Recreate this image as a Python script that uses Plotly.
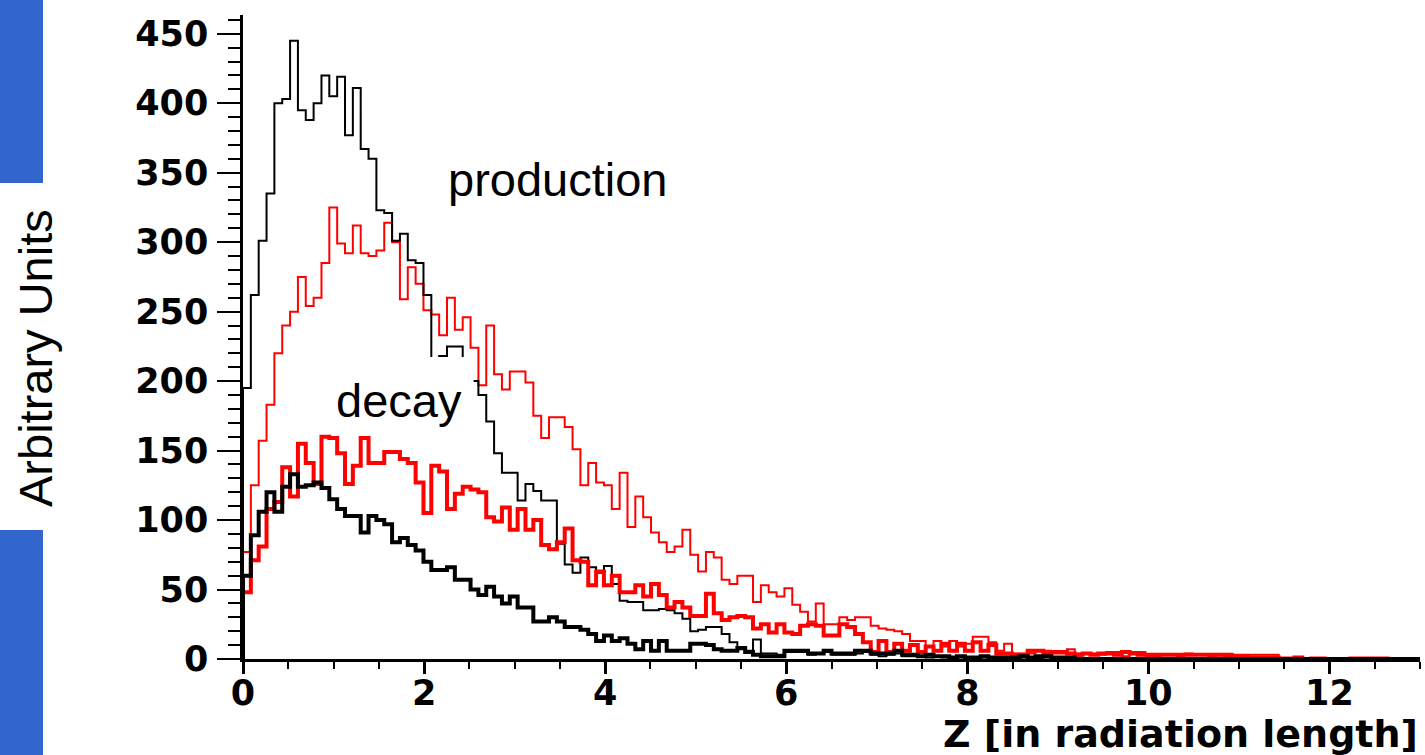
import numpy as np
import plotly.graph_objects as go

# ---------------- data ----------------
NBINS = 150
XMIN, XMAX = 0.0, 13.0

thin_black = [195, 262, 301, 335, 400, 403, 445, 395, 388, 400,
              420, 405, 419, 377, 411, 367, 360, 323, 321, 301,
              306, 287, 285, 262, 205, 218, 225, 225, 212, 200,
              190, 171, 148, 134, 134, 114, 126, 121, 114, 114,
              83, 68, 62, 73, 66, 62, 67, 54, 42, 41,
              41, 35, 35, 36, 35, 33, 29, 20, 21, 23,
              23, 18, 12, 7, 6, 14, 4, 4, 3, 5,
              5, 5, 3, 4, 5, 3, 3, 3, 4, 5,
              3, 2, 3, 4, 2, 2, 2, 1, 2, 1,
              1, 1, 0, 1, 1, 0, 1, 0, 0, 1,
              0, 0, 1, 0, 0, 0, 1, 0, 0, 0,
              0, 0, 0, 0, 0, 0, 0, 0, 0, 0,
              0, 0, 0, 0, 0, 0, 0, 0, 0, 0,
              0, 0, 0, 0, 0, 0, 0, 0, 0, 0,
              0, 0, 0, 0, 0, 0, 0, 0, 0, 0]

thin_red = [77, 125, 157, 183, 220, 240, 250, 275, 254, 260,
            285, 325, 299, 292, 312, 292, 290, 294, 314, 300,
            259, 282, 270, 251, 248, 233, 260, 237, 246, 224,
            197, 240, 205, 194, 207, 207, 199, 175, 159, 174,
            174, 167, 151, 125, 141, 127, 125, 108, 134, 95,
            117, 102, 91, 84, 77, 81, 93, 75, 63, 77,
            73, 57, 54, 60, 60, 41, 53, 48, 45, 51,
            39, 34, 27, 40, 25, 25, 30, 28, 30, 30,
            24, 22, 21, 20, 18, 13, 13, 9, 13, 9,
            13, 9, 11, 16, 16, 12, 6, 11, 4, 4,
            4, 6, 6, 4, 4, 7, 4, 4, 4, 3,
            5, 5, 2, 5, 5, 2, 2, 3, 3, 2,
            4, 3, 3, 2, 1, 2, 3, 3, 3, 3,
            3, 3, 1, 1, 0, 0, 1, 1, 0, 0,
            0, 1, 1, 1, 1, 1, 0, 0, 0, 0]

thick_red = [48, 71, 81, 108, 113, 138, 117, 155, 141, 126,
             160, 159, 148, 126, 139, 159, 141, 141, 149, 149,
             144, 141, 127, 105, 139, 135, 108, 119, 124, 122,
             120, 102, 99, 109, 93, 108, 93, 100, 82, 79,
             84, 94, 71, 70, 53, 63, 53, 60, 48, 48,
             53, 45, 54, 46, 37, 41, 37, 31, 31, 47,
             33, 28, 30, 31, 30, 22, 25, 19, 25, 19,
             18, 24, 25, 24, 17, 17, 25, 23, 18, 12,
             5, 13, 5, 11, 6, 10, 5, 9, 6, 11,
             6, 11, 6, 12, 6, 10, 4, 4, 3, 3,
             6, 6, 4, 5, 5, 4, 3, 4, 3, 4,
             4, 3, 5, 4, 3, 3, 3, 3, 3, 3,
             3, 3, 3, 3, 3, 3, 2, 2, 1, 1,
             1, 1, 0, 0, 1, 0, 0, 0, 0, 0,
             0, 0, 0, 0, 0, 0, 0, 0, 0, 0]

thick_black = [60, 89, 106, 120, 106, 124, 133, 124, 125, 127,
               123, 115, 108, 103, 103, 91, 103, 100, 97, 84,
               87, 82, 78, 70, 64, 64, 66, 57, 57, 50,
               46, 52, 45, 40, 45, 37, 37, 27, 27, 30,
               27, 23, 23, 21, 18, 13, 17, 13, 15, 11,
               7, 13, 6, 13, 6, 6, 6, 11, 11, 10,
               7, 6, 6, 8, 5, 3, 2, 2, 2, 6,
               6, 6, 4, 4, 6, 4, 4, 4, 6, 6,
               4, 4, 4, 6, 3, 3, 2, 3, 2, 2,
               1, 2, 1, 1, 2, 1, 1, 1, 1, 2,
               1, 2, 2, 1, 1, 1, 0, 0, 0, 0,
               0, 0, 0, 0, 0, 0, 0, 0, 0, 0,
               0, 0, 0, 0, 0, 0, 0, 0, 0, 0,
               0, 0, 0, 0, 0, 0, 0, 0, 0, 0,
               0, 0, 0, 0, 0, 0, 0, 0, 0, 0]

x_ticks = [0, 2, 4, 6, 8, 10, 12]
y_ticks = [0, 50, 100, 150, 200, 250, 300, 350, 400, 450]

edges = np.linspace(XMIN, XMAX, NBINS + 1)


def step_xy(vals):
    v = np.asarray(vals, dtype=float)
    xs = np.concatenate([[edges[0]], edges[:-1], [edges[-1]]])
    ys = np.concatenate([[0.0], v, [v[-1]]])
    return xs, ys


fig = go.Figure()
for vals, color, width in [(thin_red, "#ff0000", 2),
                           (thin_black, "#000000", 2),
                           (thick_red, "#ff0000", 4),
                           (thick_black, "#000000", 4)]:
    xs, ys = step_xy(vals)
    fig.add_trace(go.Scatter(x=xs, y=ys, mode="lines",
                             line=dict(color=color, width=width, shape="hv"),
                             hoverinfo="skip", showlegend=False, cliponaxis=True))

W, H = 1425, 755
ML, MR, MT, MB = 243, 5, 15, 96
YMAX = 463.5
pw = W - ML - MR
ph = H - MT - MB


def px2paper_x(px):
    return (px - ML) / pw


def px2paper_y(py):
    return (H - MB - py) / ph


tickfont = dict(family="DejaVu Sans", size=35, color="black", weight="bold")

fig.update_layout(
    width=W, height=H,
    margin=dict(l=ML, r=MR, t=MT, b=MB, pad=0),
    paper_bgcolor="white", plot_bgcolor="white",
    showlegend=False,
    xaxis=dict(range=[XMIN, XMAX], showgrid=False, zeroline=False,
               showline=True, linecolor="black", linewidth=3,
               ticks="outside", ticklen=12, tickwidth=2.5, tickcolor="black",
               tickvals=x_ticks, ticktext=[str(t) for t in x_ticks],
               tickfont=tickfont, ticklabelstandoff=-11,
               minor=dict(dtick=0.5, ticks="outside", ticklen=7,
                          tickwidth=2, tickcolor="black", showgrid=False)),
    yaxis=dict(range=[0, YMAX], showgrid=False, zeroline=False,
               showline=True, linecolor="black", linewidth=2.5,
               ticks="outside", ticklen=23, tickwidth=2, tickcolor="black",
               tickvals=y_ticks, ticktext=[str(t) for t in y_ticks],
               tickfont=tickfont, ticklabelstandoff=2,
               minor=dict(dtick=10, ticks="outside", ticklen=12,
                          tickwidth=2, tickcolor="black", showgrid=False)),
)

# blue strips at left edge of the slide
blue = "#3366cc"
fig.add_shape(type="rect", xref="paper", yref="paper",
              x0=px2paper_x(0), x1=px2paper_x(43),
              y0=px2paper_y(183), y1=px2paper_y(0),
              fillcolor=blue, line=dict(width=0), layer="above")
fig.add_shape(type="rect", xref="paper", yref="paper",
              x0=px2paper_x(0), x1=px2paper_x(43),
              y0=px2paper_y(755), y1=px2paper_y(530),
              fillcolor=blue, line=dict(width=0), layer="above")

# white label box covering part of the histograms
fig.add_shape(type="rect", xref="x", yref="y",
              x0=0.873, x1=2.547, y0=168.4, y1=217.4,
              fillcolor="white", line=dict(width=0), layer="above")

fig.add_annotation(text="production", xref="x", yref="y", x=3.479, y=345,
                   showarrow=False, xanchor="center", yanchor="middle",
                   font=dict(family="Liberation Sans", size=47, color="black"))
fig.add_annotation(text="decay", xref="x", yref="y", x=1.72, y=186,
                   showarrow=False, xanchor="center", yanchor="middle",
                   font=dict(family="Liberation Sans", size=47, color="black"))

fig.add_annotation(text="Z [in radiation length]", xref="paper", yref="paper",
                   x=1.0, y=px2paper_y(734), showarrow=False,
                   xanchor="right", yanchor="middle",
                   font=dict(family="DejaVu Sans", size=38, color="black", weight="bold"))
fig.add_annotation(text="Arbitrary Units", xref="paper", yref="paper",
                   x=px2paper_x(36), y=px2paper_y(358), showarrow=False,
                   textangle=-90, xanchor="center", yanchor="middle",
                   font=dict(family="Liberation Sans", size=47, color="black"))

fig.write_html("out.html")
